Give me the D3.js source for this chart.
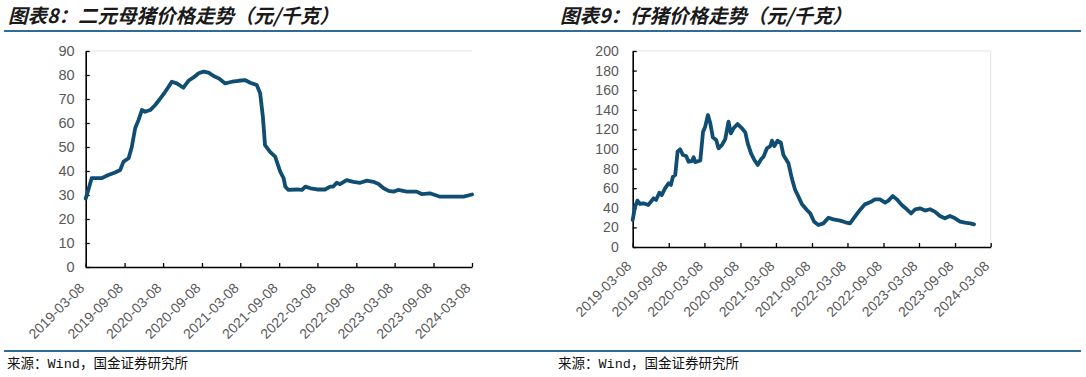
<!DOCTYPE html>
<html>
<head>
<meta charset="utf-8">
<script src="https://cdn.jsdelivr.net/npm/d3@7"></script>
<style>
  body { margin: 0; background: #fff; }
  svg { display: block; }
  .title { font-family: "Noto Sans CJK SC", sans-serif; font-size: 19.5px; font-style: italic; font-weight: 700; fill: #1a1a1a; }
  .source { font-family: "Liberation Mono", "Noto Sans CJK SC", monospace; font-size: 13.5px; fill: #111; }
  .tick text { font-family: "Liberation Sans", Arial, sans-serif; fill: #595959; }
</style>
</head>
<body>
<svg id="chart" width="1086" height="377"></svg>
<script>
// 二元母猪价格 (元/千克)
const sowDates = ["2019-03-08","2019-03-20","2019-04-05","2019-05-22","2019-06-23","2019-07-25","2019-08-18","2019-09-03","2019-09-27","2019-10-12","2019-10-28","2019-11-13","2019-11-29","2019-12-14","2020-01-07","2020-01-31","2020-02-24","2020-03-18","2020-04-03","2020-04-18","2020-05-12","2020-06-12","2020-07-06","2020-07-30","2020-08-23","2020-09-16","2020-10-09","2020-11-02","2020-11-26","2020-12-27","2021-01-28","2021-02-28","2021-03-30","2021-04-24","2021-05-25","2021-06-10","2021-06-23","2021-07-03","2021-07-27","2021-08-20","2021-09-13","2021-09-29","2021-10-07","2021-10-22","2021-12-01","2021-12-25","2022-01-10","2022-02-03","2022-03-06","2022-04-13","2022-05-07","2022-05-22","2022-06-07","2022-06-23","2022-07-24","2022-08-25","2022-09-26","2022-10-28","2022-11-28","2022-12-22","2023-01-15","2023-02-08","2023-03-03","2023-03-25","2023-05-04","2023-06-20","2023-07-14","2023-08-22","2023-09-15","2023-10-09","2023-11-26","2024-01-28","2024-02-28","2024-03-08"];
const sowPrices = [28.5,32,37,37,38.3,39.4,40.4,43.9,45.3,50,57.8,61.3,65.4,64.7,65.4,67.5,70.3,73,75.1,77.2,76.5,74.7,77.6,79,80.7,81.4,81,79.6,78.6,76.5,77.2,77.6,77.9,76.8,75.8,72.4,62.6,50.8,48,46,39.7,37,33.5,32.1,32.3,32.1,33.5,32.8,32.3,32.3,33.5,33.5,35.1,34.5,36.2,35.5,35.1,36,35.5,34.6,32.8,31.7,31.4,32.1,31.4,31.4,30.4,30.7,30,29.3,29.3,29.3,30,30.2];

// 仔猪价格 (元/千克)
const pigletDates = ["2019-03-08","2019-03-20","2019-04-01","2019-04-15","2019-05-02","2019-05-27","2019-06-22","2019-07-05","2019-07-22","2019-08-03","2019-08-20","2019-09-07","2019-09-19","2019-09-29","2019-10-11","2019-10-23","2019-11-05","2019-11-19","2019-12-06","2019-12-18","2020-01-04","2020-01-13","2020-01-21","2020-02-16","2020-03-01","2020-03-12","2020-03-26","2020-04-07","2020-04-20","2020-05-07","2020-05-19","2020-06-05","2020-06-22","2020-07-09","2020-07-21","2020-08-04","2020-08-24","2020-09-16","2020-10-03","2020-10-15","2020-11-01","2020-11-18","2020-12-05","2020-12-22","2021-01-04","2021-01-21","2021-02-08","2021-02-16","2021-02-28","2021-03-16","2021-04-02","2021-04-15","2021-05-11","2021-05-28","2021-06-14","2021-07-01","2021-07-18","2021-08-13","2021-08-30","2021-09-19","2021-10-11","2021-11-05","2021-12-01","2021-12-26","2022-01-30","2022-02-25","2022-03-21","2022-04-15","2022-05-11","2022-06-05","2022-07-01","2022-07-26","2022-08-21","2022-09-16","2022-10-03","2022-10-25","2022-11-15","2022-12-10","2023-01-05","2023-01-27","2023-02-17","2023-03-13","2023-04-08","2023-05-03","2023-05-28","2023-06-23","2023-07-18","2023-08-13","2023-09-08","2023-10-04","2023-10-29","2023-11-24","2023-12-14"];
const pigletPrices = [27.6,41,47.3,43.9,44.6,42.9,49.7,48,55.4,53,59.9,65,63.3,71.7,73.4,97.3,99.7,93.9,92.9,87,87.7,91.5,86.6,88.3,117.7,122.8,134.7,126.2,111.9,109.2,100.7,104,109.9,127.9,116,121.1,125.5,121.1,116.7,105.8,95.6,88.8,83.7,89.5,92.2,100.7,103.1,108.5,103.1,108.5,106.5,93.9,85.4,70.1,58.2,51.4,43.9,37.8,34.3,25.8,22.4,24.1,29.9,28.2,26.9,25.2,24.1,30.9,37.8,43.5,45.6,48.6,48.6,45.2,47.3,52,48.6,42.9,38.5,34.3,38.5,39.5,37.2,38.5,36.1,31.6,29.3,31.6,29.3,25.9,24.8,24.1,23.1];

const xTickLabels = ["2019-03-08","2019-09-08","2020-03-08","2020-09-08","2021-03-08","2021-09-08","2022-03-08","2022-09-08","2023-03-08","2023-09-08","2024-03-08"];
const sowYTicks = [0,10,20,30,40,50,60,70,80,90];
const pigletYTicks = [0,20,40,60,80,100,120,140,160,180,200];

const parseDate = d3.timeParse("%Y-%m-%d");
const fmtDate = d3.timeFormat("%Y-%m-%d");
const svg = d3.select("#chart");

function drawPanel(cfg) {
  const data = cfg.dates.map((d, i) => ({date: parseDate(d), value: cfg.values[i]}));
  const ticks = xTickLabels.map(parseDate);

  const x = d3.scaleTime()
      .domain([ticks[0], ticks[ticks.length - 1]])
      .range([cfg.left, cfg.right]);
  const y = d3.scaleLinear()
      .domain([0, d3.max(cfg.yTicks)])
      .range([cfg.bottom, cfg.top]);

  // faint plot border
  cfg.border.forEach(b => {
    const p = b === "top"
      ? [cfg.left, cfg.top, cfg.right, cfg.top]
      : [cfg.right, cfg.top, cfg.right, cfg.bottom];
    svg.append("line")
        .attr("x1", p[0]).attr("y1", p[1]).attr("x2", p[2]).attr("y2", p[3])
        .attr("stroke", "#e3e3e3").attr("stroke-width", 1);
  });

  // y axis
  const yAxisG = svg.append("g")
      .attr("transform", `translate(${cfg.left},0)`)
      .call(d3.axisLeft(y).tickValues(cfg.yTicks).tickSize(-4).tickPadding(cfg.yPad).tickSizeOuter(0));
  yAxisG.select(".domain").attr("stroke", "#000").attr("stroke-width", 1.6);
  yAxisG.selectAll(".tick line").attr("stroke", "#000").attr("stroke-width", 1.3);
  yAxisG.selectAll(".tick text").style("font-size", cfg.fontSize + "px");

  // x axis
  const xAxisG = svg.append("g")
      .attr("transform", `translate(0,${cfg.bottom})`)
      .call(d3.axisBottom(x).tickValues(ticks).tickSize(-4).tickSizeOuter(0).tickFormat(fmtDate));
  xAxisG.select(".domain").attr("stroke", "#000").attr("stroke-width", 1.6);
  xAxisG.selectAll(".tick line").attr("stroke", "#000").attr("stroke-width", 1.3);
  xAxisG.selectAll(".tick text")
      .style("font-size", "14px")
      .attr("text-anchor", "end")
      .attr("dy", 0)
      .attr("y", 0)
      .attr("transform", `translate(-1,${cfg.xLabelOffset}) rotate(-45)`);

  // price line
  const line = d3.line()
      .x(d => x(d.date))
      .y(d => y(d.value));
  svg.append("path")
      .datum(data)
      .attr("fill", "none")
      .attr("stroke", "#0f4e72")
      .attr("stroke-width", 3.8)
      .attr("stroke-linejoin", "round")
      .attr("stroke-linecap", "round")
      .attr("d", line);

  // title, rules, source
  svg.append("text").attr("class", "title")
      .attr("x", cfg.titleX).attr("y", 23)
      .text(cfg.title);
  svg.append("line")
      .attr("x1", cfg.ruleX1).attr("x2", cfg.ruleX2).attr("y1", 31).attr("y2", 31)
      .attr("stroke", "#2f6b97").attr("stroke-width", 2);
  svg.append("line")
      .attr("x1", cfg.ruleX1).attr("x2", cfg.ruleX2).attr("y1", 351).attr("y2", 351)
      .attr("stroke", "#2f6b97").attr("stroke-width", 2);
  svg.append("text").attr("class", "source")
      .attr("x", cfg.sourceX).attr("y", 368)
      .text("来源：Wind，国金证券研究所");
}

drawPanel({
  title: "图表8：二元母猪价格走势（元/千克）",
  dates: sowDates, values: sowPrices, yTicks: sowYTicks,
  left: 85.7, right: 472, top: 51, bottom: 267,
  yPad: 11, fontSize: 14.5, xLabelOffset: 22,
  border: ["top"],
  titleX: 8, ruleX1: 4, ruleX2: 543, sourceX: 7
});

drawPanel({
  title: "图表9：仔猪价格走势（元/千克）",
  dates: pigletDates, values: pigletPrices, yTicks: pigletYTicks,
  left: 632.7, right: 990.7, top: 51, bottom: 247,
  yPad: 14, fontSize: 14, xLabelOffset: 20,
  border: ["top", "right"],
  titleX: 560, ruleX1: 543, ruleX2: 1081, sourceX: 558
});
</script>
</body>
</html>
